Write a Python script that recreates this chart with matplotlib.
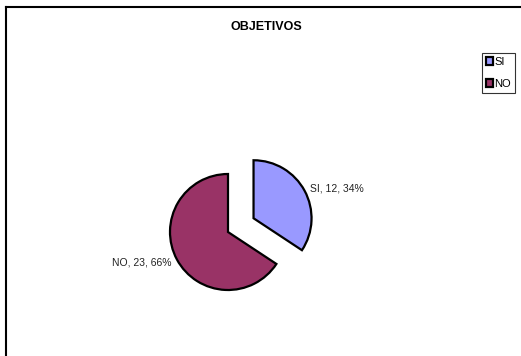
import math
import matplotlib.pyplot as plt
from matplotlib.lines import Line2D

plt.rcParams['font.family'] = ['Liberation Sans', 'DejaVu Sans']

categories = ["SI", "NO"]
values = [12, 23]
colors = ["#9999FF", "#993366"]
title = "OBJETIVOS"

W, H = 521, 356
total = sum(values)
labels = [f"{c}, {v}, {round(100 * v / total)}%" for c, v in zip(categories, values)]
radius = 58

fig = plt.figure(figsize=(W / 100, H / 100), dpi=100)
ax = fig.add_axes([0, 0, 1, 1])

wedges, texts = ax.pie(
    values,
    labels=labels,
    colors=colors,
    startangle=90,
    counterclock=False,
    explode=[0.5 * radius, 0],
    radius=radius,
    center=(228, H - 232),
    labeldistance=1.1,
    wedgeprops=dict(edgecolor="black", linewidth=1.6),
    textprops=dict(fontsize=7.5, color="#222222"),
)
# align labels by the side of the pie they sit on
for w, t in zip(wedges, texts):
    mid = math.radians((w.theta1 + w.theta2) / 2)
    t.set_ha("left" if math.cos(mid) > 0 else "right")

ax.set_xlim(0, W)
ax.set_ylim(0, H)
ax.set_aspect("equal")
ax.axis("off")

fig.text(266 / W, 1 - 27 / H, title, ha="center", va="center",
         fontsize=9, fontweight="bold")

leg = ax.legend(wedges, categories, loc="upper right",
                bbox_to_anchor=(515 / W, 1 - 53 / H), bbox_transform=fig.transFigure,
                fontsize=8, frameon=True, fancybox=False, borderpad=0.35,
                handlelength=0.7, handleheight=0.7, handletextpad=0.1,
                labelspacing=1.1, borderaxespad=0)
leg.get_frame().set_edgecolor("black")
leg.get_frame().set_linewidth(0.8)

# chart area border: only the left and top edges fall inside the image
fig.add_artist(Line2D([5.5 / W, 5.5 / W], [0, 1 - 7 / H], color="black", lw=1.5))
fig.add_artist(Line2D([5.5 / W, 1], [1 - 7 / H, 1 - 7 / H], color="black", lw=1.5))

fig.savefig("out.png", dpi=100)
